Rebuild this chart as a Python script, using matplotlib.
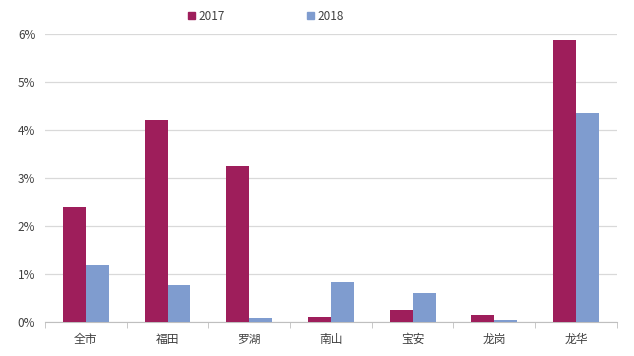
import numpy as np
import matplotlib.pyplot as plt
from matplotlib.patches import Patch

plt.rcParams['font.family'] = ['Noto Sans CJK SC', 'DejaVu Sans']

districts = ["全市", "福田", "罗湖", "南山", "宝安", "龙岗", "龙华"]
v2017 = [2.40, 4.21, 3.25, 0.10, 0.25, 0.15, 5.88]
v2018 = [1.19, 0.77, 0.08, 0.83, 0.60, 0.04, 4.36]
yticks = [0, 1, 2, 3, 4, 5, 6]

c2017 = "#9E1E5B"
c2018 = "#7F9CCF"
txt = "#404040"

fig = plt.figure(figsize=(6.34, 3.56), dpi=100, facecolor="white")
ax = fig.add_axes([0.071, 0.0955, 0.902, 0.809])

x = np.arange(len(districts))
w = 0.28
ax.bar(x - w / 2, v2017, width=w, color=c2017, zorder=3)
ax.bar(x + w / 2, v2018, width=w, color=c2018, zorder=3)

ax.set_xlim(-0.5, len(districts) - 0.5)
ax.set_ylim(0, 6)
ax.set_yticks(yticks)
ax.set_yticklabels([f"{t}%" for t in yticks], fontsize=8.5, color=txt)
ax.yaxis.grid(True, color="#D9D9D9", lw=0.9, zorder=0)
ax.tick_params(axis="y", length=0, pad=7)

# category labels centred, tick marks on the group boundaries
ax.set_xticks(x)
ax.set_xticklabels(districts, fontsize=8.5, color=txt)
ax.tick_params(axis="x", which="major", length=0, pad=8)
ax.set_xticks(np.arange(-0.5, len(districts)), minor=True)
ax.tick_params(axis="x", which="minor", length=4, color="#BFBFBF", direction="out")

for s in ["top", "right", "left"]:
    ax.spines[s].set_visible(False)
ax.spines["bottom"].set_color("#BFBFBF")

handles = [Patch(color=c2017, label="2017"), Patch(color=c2018, label="2018")]
fig.legend(handles=handles, loc="center", bbox_to_anchor=(266 / 634, 1 - 16 / 356),
           ncol=2, frameon=False, fontsize=8.5, handlelength=0.6, handleheight=0.6,
           handletextpad=0.3, columnspacing=7.0, labelcolor=txt)

fig.savefig("out.png", dpi=100)
